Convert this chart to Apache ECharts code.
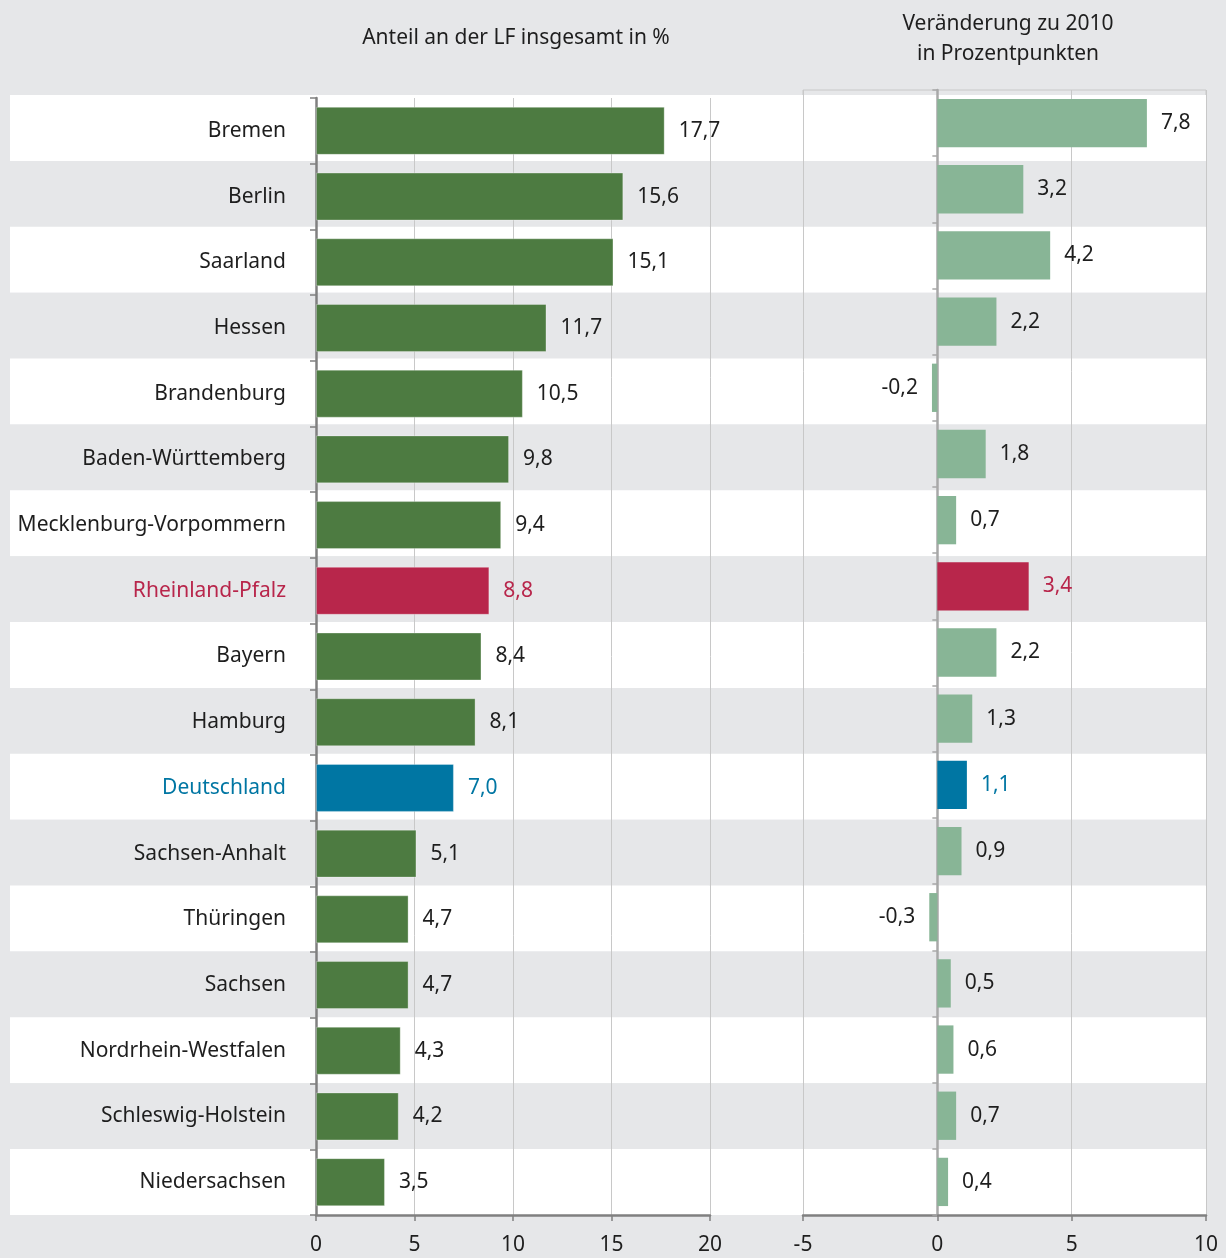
<!DOCTYPE html>
<html><head><meta charset="utf-8">
<script src="https://cdn.jsdelivr.net/npm/echarts@6/dist/echarts.min.js"></script>
<style>html,body{margin:0;padding:0;background:#e6e7e9}#c{width:1226px;height:1258px}</style>
</head><body><div id="c"></div>
<script>
const categories = ['Bremen','Berlin','Saarland','Hessen','Brandenburg','Baden-Württemberg','Mecklenburg-Vorpommern','Rheinland-Pfalz','Bayern','Hamburg','Deutschland','Sachsen-Anhalt','Thüringen','Sachsen','Nordrhein-Westfalen','Schleswig-Holstein','Niedersachsen'];
const shareValues = [17.7,15.6,15.1,11.7,10.5,9.8,9.4,8.8,8.4,8.1,7.0,5.1,4.7,4.7,4.3,4.2,3.5];
const changeValues = [7.8,3.2,4.2,2.2,-0.2,1.8,0.7,3.4,2.2,1.3,1.1,0.9,-0.3,0.5,0.6,0.7,0.4];
const leftTicks = [0,5,10,15,20];
const rightTicks = [-5,0,5,10];
const titleLeft = 'Anteil an der LF insgesamt in %';
const titleRight = 'Veränderung zu 2010\nin Prozentpunkten';

const FONT = '"Noto Sans", "Open Sans", sans-serif';
const FS = 21;
const TXT = '#1e1e1e';
const highlight = {'Rheinland-Pfalz':'#b8264b','Deutschland':'#0076a3'};
const fmt = v => v.toFixed(1).replace('.', ',');

const catData = categories.map(c => highlight[c] ? {value:c, textStyle:{color:highlight[c]}} : c);

function barItems(vals, base){
  return vals.map((v,i) => {
    const c = categories[i];
    const col = highlight[c] || base;
    return {
      value: v,
      itemStyle: {color: col},
      label: {
        position: v < 0 ? 'left' : 'right',
        color: highlight[c] || TXT
      }
    };
  });
}

const chart = echarts.init(document.getElementById('c'), null, {renderer:'canvas'});
chart.setOption({
  backgroundColor: '#e6e7e9',
  animation: false,
  textStyle: {fontFamily: FONT},
  title: [
    {text: titleLeft, left: 511, top: 23, textAlign: 'center',
     textStyle:{fontFamily:FONT, fontSize:FS, fontWeight:'normal', color:TXT}},
    {text: titleRight, left: 1003, top: 4, textAlign: 'center',
     textStyle:{fontFamily:FONT, fontSize:FS, fontWeight:'normal', color:TXT, lineHeight:30}}
  ],
  grid: [
    {left: 10, top: 95, width: 1196, height: 1120, show: false},
    {left: 316, top: 98, width: 394, height: 1117, show: true, borderColor:'#c8c8c8', borderWidth:1, backgroundColor:'transparent'},
    {left: 803, top: 90, width: 403, height: 1125, show: true, borderColor:'#c8c8c8', borderWidth:1, backgroundColor:'transparent'}
  ],
  xAxis: [
    {gridIndex:0, type:'value', show:false, min:0, max:1},
    {gridIndex:1, type:'value', min:leftTicks[0], max:leftTicks[leftTicks.length-1], interval:5,
     axisLine:{show:true, lineStyle:{color:'#808080', width:2.5}},
     axisTick:{show:true, length:6, lineStyle:{color:'#808080', width:1.5}},
     axisLabel:{fontFamily:FONT, fontSize:FS, color:TXT, margin:20},
     splitLine:{show:true, lineStyle:{color:'#c8c8c8', width:1}}},
    {gridIndex:2, type:'value', min:rightTicks[0], max:rightTicks[rightTicks.length-1], interval:5,
     axisLine:{show:true, onZero:false, lineStyle:{color:'#808080', width:2.5}},
     axisTick:{show:true, length:6, lineStyle:{color:'#808080', width:1.5}},
     axisLabel:{fontFamily:FONT, fontSize:FS, color:TXT, margin:20},
     splitLine:{show:true, lineStyle:{color:'#c8c8c8', width:1}}}
  ],
  yAxis: [
    {gridIndex:0, type:'category', data:categories, inverse:true,
     axisLine:{show:false}, axisTick:{show:false}, axisLabel:{show:false},
     splitArea:{show:true, areaStyle:{color:['#ffffff','#e6e7e9']}}},
    {gridIndex:1, type:'category', data:catData, inverse:true,
     axisLine:{show:true, lineStyle:{color:'#808080', width:2.5}},
     axisTick:{show:true, length:6, lineStyle:{color:'#808080', width:1.5}},
     axisLabel:{fontFamily:FONT, fontSize:FS, color:TXT, margin:30}},
    {gridIndex:2, type:'category', data:categories, inverse:true,
     axisLine:{show:true, onZero:true, lineStyle:{color:'#a8a8a8', width:2.5}},
     axisTick:{show:true, length:5, lineStyle:{color:'#a8a8a8', width:1.5}},
     axisLabel:{show:false}}
  ],
  series: [
    {type:'bar', xAxisIndex:1, yAxisIndex:1, barWidth:'73%',
     data: barItems(shareValues, '#4d7b41'),
     itemStyle:{borderColor:'rgba(255,255,255,0.3)', borderWidth:1},
     label:{show:true, distance:14, fontFamily:FONT, fontSize:FS, formatter:p=>fmt(p.value)}},
    {type:'bar', xAxisIndex:2, yAxisIndex:2, barWidth:'73%',
     data: barItems(changeValues, '#88b596'),
     label:{show:true, distance:14, fontFamily:FONT, fontSize:FS, formatter:p=>fmt(p.value)}}
  ]
});
</script></body></html>
